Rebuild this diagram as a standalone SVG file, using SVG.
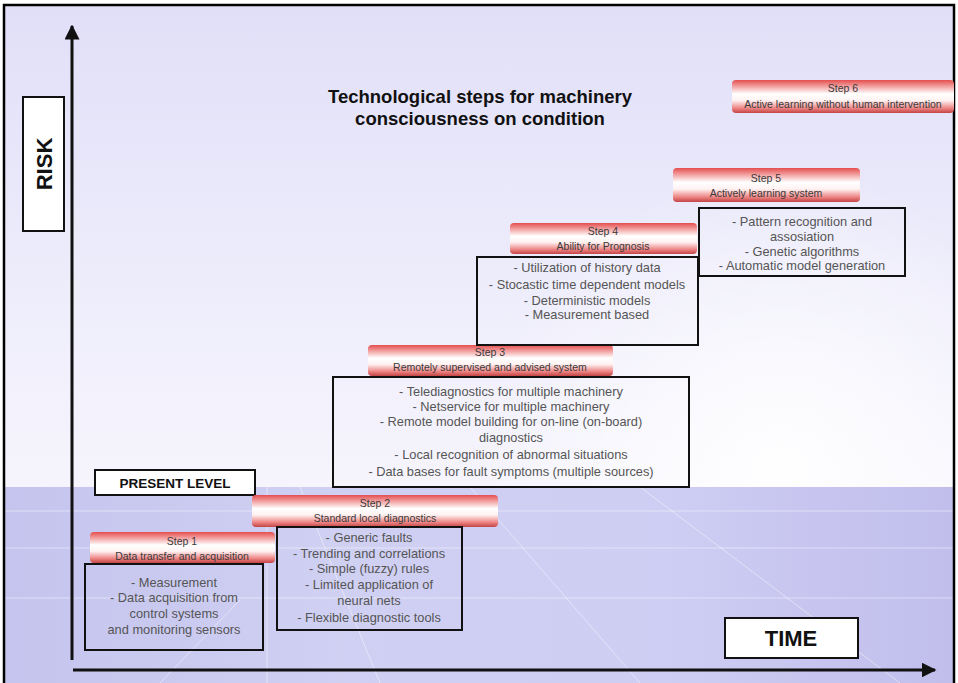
<svg xmlns="http://www.w3.org/2000/svg" width="958" height="683" viewBox="0 0 958 683">
  <defs>
    <linearGradient id="skyGrad" x1="0" y1="0" x2="0" y2="1">
      <stop offset="0" stop-color="#e1dff8"/>
      <stop offset="0.55" stop-color="#edecfb"/>
      <stop offset="1" stop-color="#f6f5fd"/>
    </linearGradient>
    <radialGradient id="skyGlow" cx="780" cy="470" r="300" gradientUnits="userSpaceOnUse">
      <stop offset="0" stop-color="#ffffff" stop-opacity="0.95"/>
      <stop offset="1" stop-color="#ffffff" stop-opacity="0"/>
    </radialGradient>
    <linearGradient id="floorGrad" x1="0" y1="0" x2="1" y2="0">
      <stop offset="0" stop-color="#c4c4ee"/>
      <stop offset="0.35" stop-color="#d0d0f3"/>
      <stop offset="0.7" stop-color="#cecdf3"/>
      <stop offset="1" stop-color="#c1beec"/>
    </linearGradient>
    <linearGradient id="ribbon" x1="0" y1="0" x2="0" y2="1">
      <stop offset="0" stop-color="#e44e4e"/>
      <stop offset="0.18" stop-color="#f29a9a"/>
      <stop offset="0.42" stop-color="#ffffff"/>
      <stop offset="0.62" stop-color="#fff2f2"/>
      <stop offset="0.85" stop-color="#ee8686"/>
      <stop offset="1" stop-color="#c44444"/>
    </linearGradient>
    <marker id="arrow" viewBox="0 0 10 10" refX="9" refY="5" markerWidth="5" markerHeight="5" orient="auto-start-reverse" markerUnits="strokeWidth">
      <path d="M0,0 L10,5 L0,10 z" fill="#111"/>
    </marker>
    <style>
      .ribbon { fill: url(#ribbon); }
      .ribbon-text { font-family: "Liberation Sans", Arial, sans-serif; font-size: 10.5px; fill: #3a3a3a; text-anchor: middle; }
      .box { fill: none; stroke: #111; stroke-width: 2; }
      .box-text { font-family: "Liberation Sans", Arial, sans-serif; font-size: 12.8px; fill: #555; text-anchor: middle; }
      .label-box { fill: #ffffff; stroke: #111; stroke-width: 2; }
      .label-text { font-family: "Liberation Sans", Arial, sans-serif; font-weight: bold; fill: #111; text-anchor: middle; }
      .grid { stroke: #ffffff; stroke-opacity: 0.45; stroke-width: 1; fill: none; }
      .axis { stroke: #111; stroke-width: 3; fill: none; }
    </style>
  </defs>

  <!-- backdrop: sky and floor -->
  <g id="backdrop">
    <rect x="5" y="5" width="949" height="483" fill="url(#skyGrad)"/>
    <rect x="5" y="5" width="949" height="483" fill="url(#skyGlow)"/>
    <rect x="5" y="487" width="949" height="196" fill="url(#floorGrad)"/>
    <line class="grid" x1="5" y1="511" x2="954" y2="511"/>
    <line class="grid" x1="5" y1="548" x2="954" y2="548"/>
    <line class="grid" x1="5" y1="598" x2="954" y2="598"/>
    <line class="grid" x1="267" y1="487" x2="267" y2="683"/>
    <line class="grid" x1="470" y1="487" x2="640" y2="683"/>
    <line class="grid" x1="640" y1="487" x2="900" y2="683"/>
    <line class="grid" x1="300" y1="487" x2="380" y2="683"/>
    <line class="grid" x1="160" y1="683" x2="240" y2="600"/>
  </g>

  <!-- frame -->
  <rect x="4" y="5" width="950" height="682" fill="none" stroke="#000" stroke-width="2.5"/>

  <!-- axes -->
  <g id="axes">
    <line class="axis" x1="72" y1="660" x2="72" y2="26" marker-end="url(#arrow)"/>
    <line class="axis" x1="73" y1="670" x2="935" y2="670" marker-end="url(#arrow)"/>
  </g>

  <!-- title -->
  <g id="title">
    <text x="480" y="103" class="label-text" font-size="18.5">Technological steps for machinery</text>
    <text x="480" y="125" class="label-text" font-size="18.5">consciousness on condition</text>
  </g>

  <g id="risk-label">
    <rect class="label-box" x="23" y="97" width="41" height="134"/>
    <text class="label-text" font-size="22" transform="translate(52,164) rotate(-90)">RISK</text>
  </g>

  <g id="time-label">
    <rect class="label-box" x="725" y="618" width="133" height="40"/>
    <text class="label-text" x="791" y="646" font-size="22">TIME</text>
  </g>

  <g id="present-level">
    <rect class="label-box" x="95" y="470" width="160" height="25"/>
    <text class="label-text" x="175" y="487.5" font-size="13.5">PRESENT LEVEL</text>
  </g>

  <!-- step 1 -->
  <g id="step1">
    <rect class="ribbon" x="90" y="532" width="185" height="31" rx="4"/>
    <text class="ribbon-text" x="182" y="545">Step 1</text>
    <text class="ribbon-text" x="182" y="560">Data transfer and acquisition</text>
    <rect class="box" x="85" y="564" width="178" height="86"/>
    <text class="box-text" x="174" y="587">- Measurement</text>
    <text class="box-text" x="174" y="602">- Data acquisition from</text>
    <text class="box-text" x="174" y="618">control systems</text>
    <text class="box-text" x="174" y="634">and monitoring sensors</text>
  </g>

  <!-- step 2 -->
  <g id="step2">
    <rect class="ribbon" x="252" y="495" width="246" height="32" rx="4"/>
    <text class="ribbon-text" x="375" y="507">Step 2</text>
    <text class="ribbon-text" x="375" y="522">Standard local diagnostics</text>
    <rect class="box" x="277" y="527" width="185" height="103"/>
    <text class="box-text" x="369" y="542">- Generic faults</text>
    <text class="box-text" x="369" y="558">- Trending and correlations</text>
    <text class="box-text" x="369" y="573">- Simple (fuzzy) rules</text>
    <text class="box-text" x="369" y="589">- Limited application of</text>
    <text class="box-text" x="369" y="605">neural nets</text>
    <text class="box-text" x="369" y="622">- Flexible diagnostic tools</text>
  </g>

  <!-- step 3 -->
  <g id="step3">
    <rect class="ribbon" x="368" y="345" width="245" height="31" rx="4"/>
    <text class="ribbon-text" x="490" y="356">Step 3</text>
    <text class="ribbon-text" x="490" y="371">Remotely supervised and advised system</text>
    <rect class="box" x="333" y="377" width="356" height="110"/>
    <text class="box-text" x="511" y="396">- Telediagnostics for multiple machinery</text>
    <text class="box-text" x="511" y="411">- Netservice for multiple machinery</text>
    <text class="box-text" x="511" y="426">- Remote model building for on-line (on-board)</text>
    <text class="box-text" x="511" y="442">diagnostics</text>
    <text class="box-text" x="511" y="459">- Local recognition of abnormal situations</text>
    <text class="box-text" x="511" y="476">- Data bases for fault symptoms (multiple sources)</text>
  </g>

  <!-- step 4 -->
  <g id="step4">
    <rect class="ribbon" x="510" y="223" width="187" height="31" rx="4"/>
    <text class="ribbon-text" x="603" y="235">Step 4</text>
    <text class="ribbon-text" x="603" y="250">Ability for Prognosis</text>
    <rect class="box" x="477" y="257" width="221" height="88"/>
    <text class="box-text" x="587" y="272">- Utilization of history data</text>
    <text class="box-text" x="587" y="289">- Stocastic time dependent models</text>
    <text class="box-text" x="587" y="305">- Deterministic models</text>
    <text class="box-text" x="587" y="319">- Measurement based</text>
  </g>

  <!-- step 5 -->
  <g id="step5">
    <rect class="ribbon" x="673" y="168" width="187" height="34" rx="4"/>
    <text class="ribbon-text" x="766" y="182">Step 5</text>
    <text class="ribbon-text" x="766" y="197">Actively learning system</text>
    <rect class="box" x="699" y="208" width="206" height="68"/>
    <text class="box-text" x="802" y="226">- Pattern recognition and</text>
    <text class="box-text" x="802" y="241">assosiation</text>
    <text class="box-text" x="802" y="256">- Genetic algorithms</text>
    <text class="box-text" x="802" y="270">- Automatic model generation</text>
  </g>

  <!-- step 6 -->
  <g id="step6">
    <rect class="ribbon" x="732" y="80" width="222" height="33" rx="4"/>
    <text class="ribbon-text" x="843" y="92">Step 6</text>
    <text class="ribbon-text" x="843" y="108">Active learning without human intervention</text>
  </g>
</svg>
